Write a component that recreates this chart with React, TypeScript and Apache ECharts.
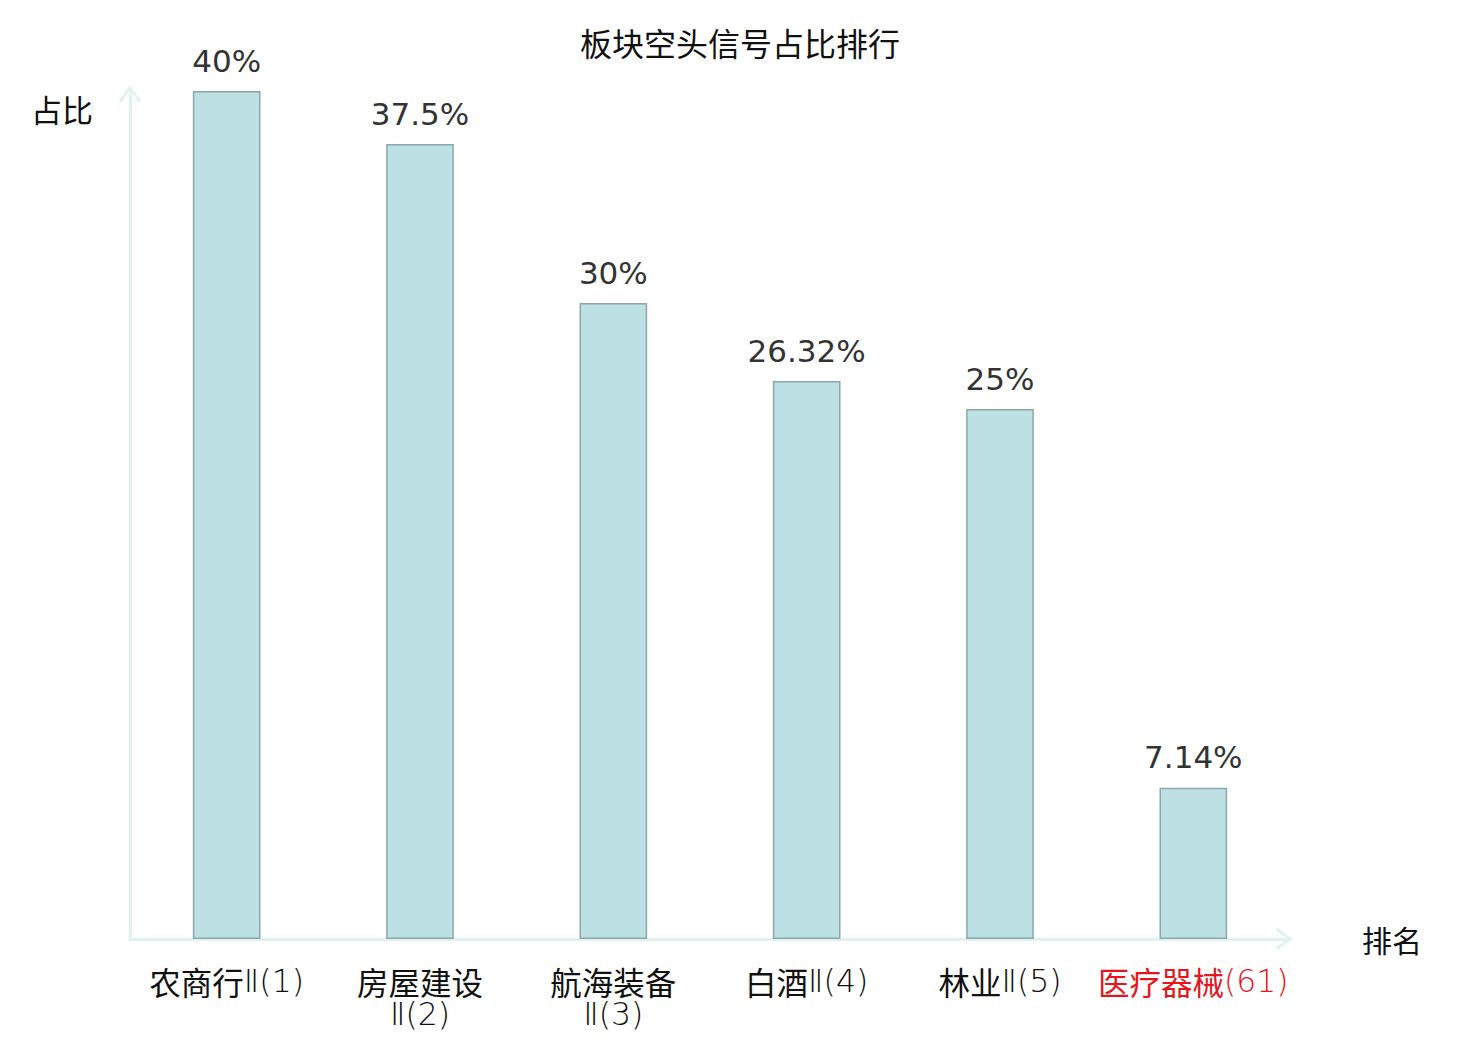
import React, { useEffect, useRef } from "react";
import * as echarts from "echarts";

const titleText = "板块空头信号占比排行";
const categories = ["农商行Ⅱ(1)", "房屋建设\nⅡ(2)", "航海装备\nⅡ(3)", "白酒Ⅱ(4)", "林业Ⅱ(5)", "医疗器械(61)"];
const highlighted = ["医疗器械(61)"];
const values = [40, 37.5, 30, 26.32, 25, 7.14];
const yName = "占比";
const xName = "排名";

const chevron = "path://M0,15 L11,0 L22,15 L19.6,17 L11,4.2 L2.4,17 Z";

function labelRich(value: string) {
  const red = highlighted.includes(value);
  const cKey = red ? "cr" : "c";
  const lKey = red ? "lr" : "l";
  return value
    .split("\n")
    .map((line) => {
      const m = line.match(/^([\u4e00-\u9fff]*)(.*)$/);
      const han = m ? m[1] : "";
      const rest = m ? m[2] : line;
      let s = "";
      if (han) s += `{${cKey}|${han}}`;
      if (rest) s += `{${lKey}|${rest}}`;
      return s;
    })
    .join("\n");
}

export default function App() {
  const ref = useRef<HTMLDivElement>(null);
  useEffect(() => {
    if (!ref.current) return;
    const chart = echarts.init(ref.current, null, { renderer: "svg" });
    const axisColor = "#dff2ef";
    const cjk = { fontSize: 31.5, fontFamily: "Noto Sans CJK SC", fontWeight: "normal", lineHeight: 33 };
    const lat = { fontSize: 31.5, fontFamily: "DejaVu Sans", fontWeight: 200, lineHeight: 33 };
    chart.setOption({
      animation: false,
      backgroundColor: "#ffffff",
      title: {
        text: titleText,
        left: "center",
        top: 13,
        textStyle: { fontSize: 32, fontWeight: "normal", color: "#111", fontFamily: "Noto Sans CJK SC" },
      },
      grid: { left: 122, right: 182, top: 83, bottom: 93, containLabel: false },
      xAxis: {
        type: "category",
        data: categories,
        name: xName,
        nameLocation: "end",
        nameGap: 72,
        nameTextStyle: { fontSize: 30, color: "#111", fontFamily: "Noto Sans CJK SC", padding: [4, 0, 0, 0] },
        axisLine: {
          show: true,
          lineStyle: { color: axisColor, width: 3 },
          symbol: ["none", chevron],
          symbolSize: [22, 17],
          symbolOffset: [0, -6],
        },
        axisTick: { show: false },
        axisLabel: {
          interval: 0,
          margin: 25,
          fontSize: 31.5,
          lineHeight: 33,
          formatter: (v: string) => labelRich(v),
          rich: {
            c: { ...cjk, color: "#111" },
            l: { ...lat, color: "#111" },
            cr: { ...cjk, color: "#e8141c" },
            lr: { ...lat, color: "#e8141c" },
          },
        },
      },
      yAxis: {
        type: "value",
        min: 0,
        max: 40,
        name: yName,
        nameLocation: "end",
        nameGap: 0,
        nameTextStyle: {
          fontSize: 31,
          color: "#111",
          fontFamily: "Noto Sans CJK SC",
          align: "right",
          verticalAlign: "top",
          padding: [2, 37, 0, 0],
        },
        axisLine: {
          show: true,
          lineStyle: { color: axisColor, width: 3 },
          symbol: ["none", chevron],
          symbolSize: [22, 17],
          symbolOffset: [0, -3],
        },
        axisTick: { show: false },
        axisLabel: { show: false },
        splitLine: { show: false },
      },
      series: [
        {
          type: "bar",
          data: values,
          barWidth: "35%",
          itemStyle: { color: "#bce0e3", borderColor: "#8aa8aa", borderWidth: 1.5 },
          label: {
            show: true,
            position: "top",
            distance: 15,
            formatter: (p: any) => p.value + "%",
            fontSize: 31,
            color: "#333",
            fontFamily: "DejaVu Sans",
          },
        },
      ],
    });
    return () => chart.dispose();
  }, []);
  return <div ref={ref} style={{ width: "100%", height: 1024 }} />;
}
